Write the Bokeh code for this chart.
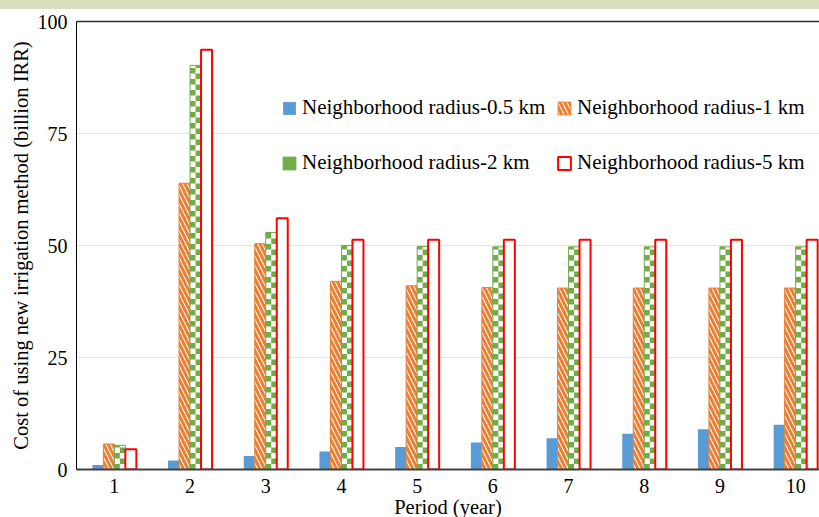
from bokeh.plotting import figure
from bokeh.models import (Range1d, FixedTicker, LinearAxis, Legend, LegendItem,
                          ColumnDataSource)
from bokeh.embed import file_html
from bokeh.resources import INLINE

periods = [1, 2, 3, 4, 5, 6, 7, 8, 9, 10]
radius_05km = [1.0, 2.0, 3.0, 4.0, 5.0, 6.0, 7.0, 8.0, 9.0, 10.0]
radius_1km = [5.7, 63.9, 50.4, 42.0, 41.0, 40.6, 40.5, 40.5, 40.5, 40.5]
radius_2km = [5.4, 90.2, 52.9, 50.0, 49.8, 49.7, 49.7, 49.7, 49.7, 49.7]
radius_5km = [4.5, 93.7, 56.1, 51.3, 51.3, 51.3, 51.3, 51.3, 51.3, 51.3]
series_labels = ["Neighborhood radius-0.5 km", "Neighborhood radius-1 km",
                 "Neighborhood radius-2 km", "Neighborhood radius-5 km"]
y_ticks = [0, 25, 50, 75, 100]
x_title = "Period (year)"
y_title = "Cost of using new irrigation method (billion IRR)"

FONT = "Liberation Serif"
BLUE, ORANGE, GREEN, RED = "#5b9bd5", "#ed7d31", "#70ad47", "#ff0000"
FRAME_H = 448

p = figure(width=819, height=517, frame_width=743, frame_height=FRAME_H,
           x_range=Range1d(0.5, 10.315), y_range=Range1d(0, 100),
           output_backend="svg", toolbar_location=None,
           min_border_left=76, min_border_right=0, min_border_top=21, min_border_bottom=48,
           outline_line_color=None, background_fill_color="white",
           border_fill_color=None,
           styles={"background": "linear-gradient(to bottom, #d9e0bc 0px, #d9e0bc 9px, #ffffff 9px, #ffffff 100%)"})

bw = 0.1453
xs = {k: [v + off * bw for v in periods] for k, off in
      (("x0", -1.5), ("x1", -0.5), ("x2", 0.5), ("x3", 1.5))}
src = ColumnDataSource(dict(**xs, a=radius_05km, b=radius_1km, c=radius_2km, d=radius_5km))

# checkerboard cells for the 2 km series, derived from its values
cell_h = 5.5 * 100 / FRAME_H
ql, qr, qb, qt = [], [], [], []
for xc, top in zip(xs["x2"], radius_2km):
    k = 0
    while k * cell_h < top:
        left = xc - bw / 2 + (k % 2) * bw / 2
        ql.append(left); qr.append(left + bw / 2)
        qb.append(k * cell_h); qt.append(min((k + 1) * cell_h, top))
        k += 1

r0 = p.vbar(x="x0", top="a", width=bw, source=src, fill_color=BLUE, line_color=None)
r1 = p.vbar(x="x1", top="b", width=bw, source=src, fill_color="white", line_color=ORANGE,
            line_width=1, hatch_pattern="left_diagonal_line", hatch_color=ORANGE,
            hatch_scale=9, hatch_weight=3)
p.vbar(x="x2", top="c", width=bw, source=src, fill_color="white", line_color=None)
r2_cells = p.quad(left=ql, right=qr, bottom=qb, top=qt, fill_color=GREEN, line_color=None)
r2_outline = p.vbar(x="x2", top="c", width=bw, source=src, fill_color=None,
                    line_color=GREEN, line_width=1)
r3 = p.vbar(x="x3", top="d", width=bw, source=src, fill_color="white", line_color=RED,
            line_width=2)

# axes
p.xaxis.ticker = FixedTicker(ticks=periods)
p.yaxis.ticker = FixedTicker(ticks=y_ticks)
for ax in (p.xaxis[0], p.yaxis[0]):
    ax.major_tick_line_color = None
    ax.minor_tick_line_color = None
    ax.major_tick_out = 0
    ax.major_tick_in = 0
    ax.minor_tick_out = 0
    ax.minor_tick_in = 0
    ax.major_label_text_font = FONT
    ax.major_label_text_font_size = "20px"
    ax.major_label_text_color = "black"
    ax.axis_label_text_font = FONT
    ax.axis_label_text_font_size = "20.5px"
    ax.axis_label_text_font_style = "normal"
    ax.axis_label_text_color = "black"
p.xaxis.axis_label = x_title
p.yaxis.axis_label = y_title
p.xaxis.axis_line_color = "#404040"
p.xaxis.axis_line_width = 2
p.yaxis.axis_line_color = "black"
p.yaxis.axis_line_width = 1
p.xaxis.major_label_standoff = 9
p.xaxis.axis_label_standoff = 0
p.yaxis.major_label_standoff = 9
p.yaxis.axis_label_standoff = 3

top_axis = LinearAxis(ticker=FixedTicker(ticks=[]), major_label_text_font_size="0px",
                      major_tick_line_color=None, minor_tick_line_color=None,
                      major_tick_out=0, major_tick_in=0, minor_tick_out=0, minor_tick_in=0,
                      axis_line_color="#303030", axis_line_width=1.5,
                      major_label_standoff=0)
p.add_layout(top_axis, "above")

p.xgrid.grid_line_color = None
p.ygrid.grid_line_color = "#e3e3e3"
p.ygrid.grid_line_width = 1

def make_legend(items, x):
    lg = Legend(items=items, location=(x, 294), orientation="vertical",
                glyph_width=16, glyph_height=16, label_standoff=5, spacing=30,
                padding=0, margin=0, border_line_color=None, background_fill_alpha=0,
                label_text_font=FONT, label_text_font_size="21px", label_text_color="black")
    p.add_layout(lg, "center")

make_legend([LegendItem(label=series_labels[0], renderers=[r0]),
             LegendItem(label=series_labels[2], renderers=[r2_cells, r2_outline])], 205)
make_legend([LegendItem(label=series_labels[1], renderers=[r1]),
             LegendItem(label=series_labels[3], renderers=[r3])], 480)

open("out.html", "w").write(file_html(p, INLINE))
